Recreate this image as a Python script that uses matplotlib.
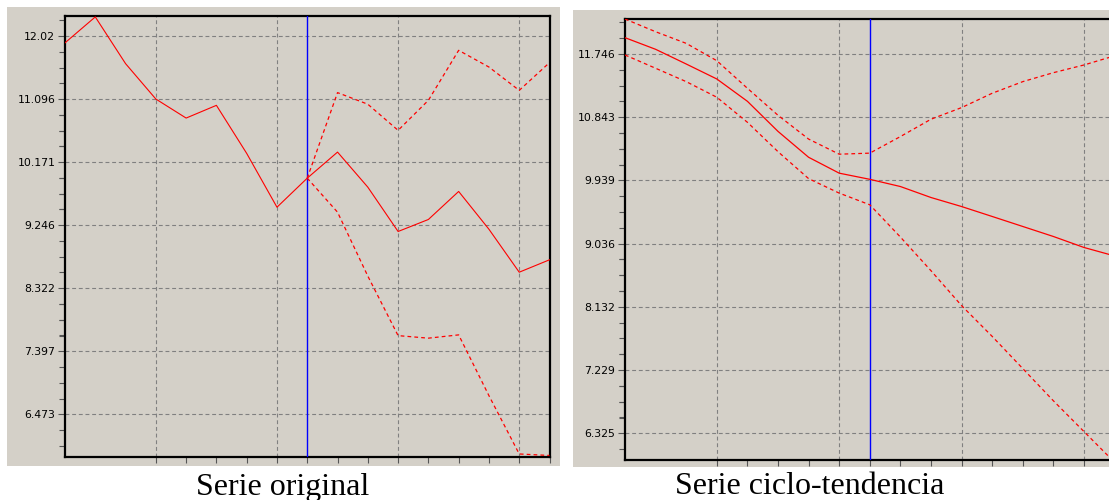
import matplotlib
matplotlib.use("Agg")
import matplotlib.pyplot as plt
from matplotlib.patches import Rectangle
import numpy as np

# valores (indice de periodo 0..16, el corte de prevision en 8)
periodos = np.arange(17)
corte = 8

serie_original = [11.92, 12.30, 11.615, 11.096, 10.817, 11.0035, 10.299, 9.510, 9.936,
                  10.318, 9.804, 9.154, 9.330, 9.741, 9.187, 8.557, 8.739]
original_sup = [9.936, 11.19, 11.02, 10.637, 11.077, 11.81, 11.565, 11.223, 11.63]
original_inf = [9.936, 9.437, 8.50, 7.627, 7.59, 7.638, 6.747, 5.892, 5.87]

serie_tendencia = [11.979, 11.813, 11.603, 11.389, 11.07, 10.64, 10.27, 10.043, 9.955,
                   9.852, 9.695, 9.566, 9.424, 9.281, 9.138, 8.981, 8.86]
tendencia_sup = [12.246, 12.064, 11.898, 11.65, 11.256, 10.87, 10.53, 10.314, 10.329,
                 10.566, 10.814, 10.98, 11.185, 11.351, 11.479, 11.589, 11.72]
tendencia_inf = [11.732, 11.542, 11.351, 11.128, 10.77, 10.35, 9.965, 9.758, 9.591,
                 9.13, 8.649, 8.15, 7.71, 7.25, 6.79, 6.35, 5.91]

yticks_original = [12.02, 11.096, 10.171, 9.246, 8.322, 7.397, 6.473]
yticks_tendencia = [11.746, 10.843, 9.939, 9.036, 8.132, 7.229, 6.325]
ylim_original = (5.852, 12.309)
ylim_tendencia = (5.944, 12.246)

xticks_mayores = [3, 7, 11, 15]
xticks_menores = list(range(4, 17))

GRIS = "#d4d0c8"
ROJO = "#ff0000"

fig = plt.figure(figsize=(11.09, 5), dpi=100)
fig.patch.set_facecolor("white")

# paneles grises de fondo (px -> fraccion de figura)
W, H = 1109.0, 500.0
fig.patches.append(Rectangle((7 / W, 1 - 466 / H), (560 - 7) / W, (466 - 7) / H,
                             transform=fig.transFigure, facecolor=GRIS, edgecolor="none", zorder=-5))
fig.patches.append(Rectangle((573 / W, 1 - 467 / H), (1109 - 573) / W, (467 - 10) / H,
                             transform=fig.transFigure, facecolor=GRIS, edgecolor="none", zorder=-5))


def estilo(ax, yticks, ylim):
    ax.set_facecolor(GRIS)
    ax.set_xlim(0, 16)
    ax.set_ylim(*ylim)
    ax.set_yticks(yticks)
    ax.set_yticklabels([str(v) for v in yticks])
    paso = (yticks[0] - yticks[1]) / 4
    menores = [t + k * paso for t in yticks for k in (-3, -2, -1, 1, 2, 3)]
    menores = sorted(set(round(m, 4) for m in menores if ylim[0] < m < ylim[1]) - set(yticks))
    ax.set_yticks(menores, minor=True)
    ax.set_xticks(xticks_mayores)
    ax.set_xticks(xticks_menores, minor=True)
    ax.set_xticklabels([])
    ax.tick_params(axis="y", which="major", length=5, width=0.8, color="#555555",
                   labelsize=7.8, pad=2, labelcolor="black")
    ax.tick_params(axis="y", which="minor", length=4, width=0.8, color="#555555")
    ax.tick_params(axis="x", which="both", length=4, width=0.8, color="#555555")
    ax.grid(True, which="major", color="#808080", linewidth=0.8, linestyle=(0, (3.5, 2.5)))
    for s in ax.spines.values():
        s.set_color("black")
        s.set_linewidth(1.6)
    ax.axvline(corte, color="#0000ff", linewidth=1.0, zorder=3)


# serie original
ax1 = fig.add_axes([65 / W, 1 - 456.7 / H, 484.5 / W, 440.4 / H])
estilo(ax1, yticks_original, ylim_original)
ax1.plot(periodos, serie_original, color=ROJO, linewidth=0.8, zorder=4)
ax1.plot(periodos[corte:], original_sup, color=ROJO, linewidth=0.9,
         linestyle=(0, (3, 2.5)), zorder=4)
ax1.plot(periodos[corte:], original_inf, color=ROJO, linewidth=0.9,
         linestyle=(0, (3, 2.5)), zorder=4)

# serie ciclo-tendencia (el eje sigue mas alla del borde derecho)
ax2 = fig.add_axes([625 / W, 1 - 460 / H, 489.6 / W, 441 / H])
estilo(ax2, yticks_tendencia, ylim_tendencia)
ax2.plot(periodos, serie_tendencia, color=ROJO, linewidth=0.9, zorder=4)
ax2.plot(periodos, tendencia_sup, color=ROJO, linewidth=0.9,
         linestyle=(0, (3, 2.5)), zorder=4)
ax2.plot(periodos, tendencia_inf, color=ROJO, linewidth=0.9,
         linestyle=(0, (3, 2.5)), zorder=4)

fig.text(283 / W, 1 - 487 / H, "Serie original", ha="center", va="center",
         family="Liberation Serif", fontsize=23)
fig.text(810 / W, 1 - 487 / H, "Serie ciclo-tendencia", ha="center", va="center",
         family="Liberation Serif", fontsize=23)

fig.savefig("out.png", dpi=100)
